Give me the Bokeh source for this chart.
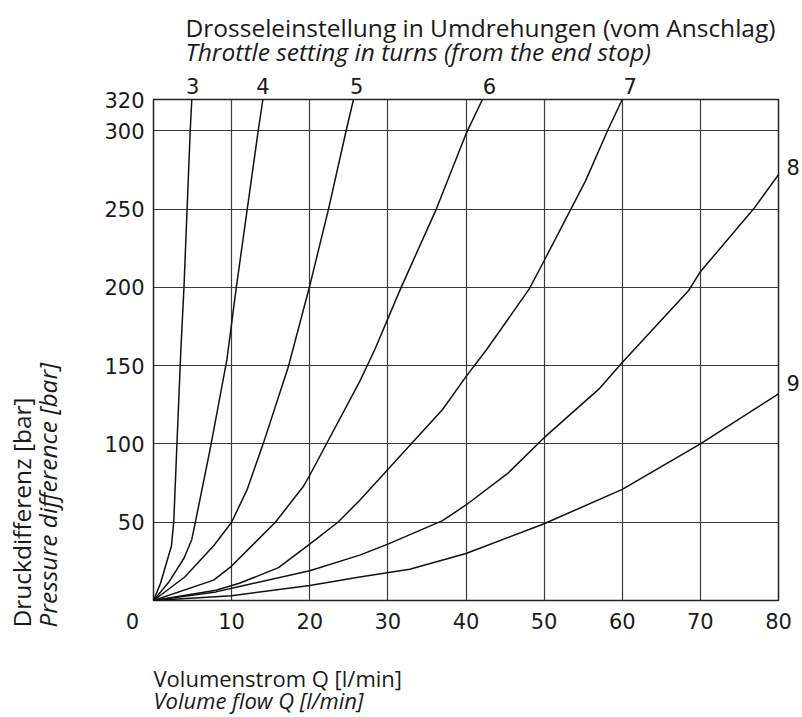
from bokeh.plotting import figure
from bokeh.models import FixedTicker, Range1d, LinearAxis, Title
from bokeh.embed import file_html
from bokeh.resources import INLINE

# Throttle setting curves: flow Q [l/min] vs pressure difference [bar]
q3 = [0, 0.9, 2.3, 2.6, 3.0, 3.5, 3.9, 4.3, 4.7, 4.9]
p3 = [0, 11, 35, 51, 100, 160, 200, 250, 300, 320]

q4 = [0, 2.0, 3.9, 4.9, 5.4, 7.3, 9.4, 10.6, 12.0, 13.4, 14.0]
p4 = [0, 12, 27, 39, 51, 98, 154, 200, 250, 300, 320]

q5 = [0, 4.0, 7.7, 10, 12, 14.1, 17.3, 20, 22.4, 24.7, 25.6]
p5 = [0, 15, 35, 50, 71, 101, 150, 201, 250, 301, 320]

q6 = [0, 7.7, 10, 15.6, 19.2, 20, 26.4, 28.3, 31.7, 36.2, 40, 42.1]
p6 = [0, 13, 22, 50, 73, 80, 140, 160, 200, 250, 298, 320]

q7 = [0, 8, 11, 16, 20, 23.6, 26.4, 37, 40, 42.6, 48.1, 50, 55.3, 58.2, 60]
p7 = [0, 6.6, 11, 21, 36, 50, 64, 122, 143, 160, 199, 217, 268, 301, 320]

q8 = [0, 8, 11, 20, 26.4, 30, 37, 40, 45.3, 50, 57, 60, 68.5, 70, 76.8, 80]
p8 = [0, 5.5, 9, 19, 29, 36, 51, 61, 81, 104, 135, 152, 198, 210, 250, 272]

q9 = [0, 10, 20, 26.4, 32.8, 40, 50, 60, 70, 80]
p9 = [0, 3, 9.6, 15, 20, 30, 49, 71, 100, 132]

curves = [(q3, p3), (q4, p4), (q5, p5), (q6, p6), (q7, p7), (q8, p8), (q9, p9)]

# curve labels: 3..7 above the top edge (at Q positions), 8 and 9 at the right edge (at p positions)
top_names = ["3", "4", "5", "6", "7"]
top_pos = [5, 14, 26, 43, 61]
right_names = ["8", "9"]
right_pos = [277, 139]

x_ticks = [0, 10, 20, 30, 40, 50, 60, 70, 80]
x_tick_labels = ["0\u2003\u2003", "10", "20", "30", "40", "50", "60", "70", "80"]
y_ticks = [50, 100, 150, 200, 250, 300, 320]
x_grid = [10, 20, 30, 40, 50, 60, 70]
y_grid = [50, 100, 150, 200, 250, 300]

title_de = "Drosseleinstellung in Umdrehungen (vom Anschlag)"
title_en = "Throttle setting in turns (from the end stop)"
xlab_de = "Volumenstrom Q [l/min]"
xlab_en = "Volume flow Q [l/min]"
ylab_de = "Druckdifferenz [bar]"
ylab_en = "Pressure difference [bar]"

TXT = "Open Sans"
BIG = "24.5px"
SMALL = "22px"
NUM = "DejaVu Sans"
COL = "#1a1a1a"
NUMSIZE = "21px"

p = figure(width=802, height=717, x_range=Range1d(0, 80), y_range=Range1d(0, 320),
           output_backend="svg", toolbar_location=None,
           min_border_left=153, min_border_right=22, min_border_top=99, min_border_bottom=117)

p.outline_line_color = "#222222"
p.outline_line_width = 1.5

p.xgrid.ticker = FixedTicker(ticks=x_grid)
p.ygrid.ticker = FixedTicker(ticks=y_grid)
for g in (p.xgrid, p.ygrid):
    g.grid_line_color = "#3a3a3a"
    g.grid_line_width = 1.2


def style_axis(ax, standoff):
    ax.axis_line_color = None
    ax.major_tick_line_color = None
    ax.minor_tick_line_color = None
    ax.major_tick_out = 0
    ax.major_tick_in = 0
    ax.major_label_text_font = NUM
    ax.major_label_text_font_size = NUMSIZE
    ax.major_label_text_color = COL
    ax.major_label_standoff = standoff


p.xaxis.ticker = FixedTicker(ticks=x_ticks)
p.xaxis.major_label_overrides = dict(zip(x_ticks, x_tick_labels))
p.yaxis.ticker = FixedTicker(ticks=y_ticks)
style_axis(p.xaxis[0], 9)
style_axis(p.yaxis[0], 9)

top_axis = LinearAxis(ticker=FixedTicker(ticks=top_pos),
                      major_label_overrides=dict(zip(top_pos, top_names)))
style_axis(top_axis, 6)
p.add_layout(top_axis, "above")

right_axis = LinearAxis(ticker=FixedTicker(ticks=right_pos),
                        major_label_overrides=dict(zip(right_pos, right_names)))
style_axis(right_axis, 8)
p.add_layout(right_axis, "right")

for q, pr in curves:
    p.line(q, pr, line_color="#111111", line_width=1.5)


def title(text, where, size, style="normal", standoff=0, offset=0.0):
    t = Title(text=text, align="left", vertical_align="middle", text_font=TXT,
              text_font_size=size, text_font_style=style, text_color=COL,
              standoff=standoff, offset=offset)
    p.add_layout(t, where)


# above (stacked outward from the frame)
title(title_en, "above", BIG, style="italic", standoff=11, offset=32)
title(title_de, "above", BIG, standoff=-32, offset=32)

# below
title(" ", "below", SMALL, standoff=-1)
title(xlab_de, "below", SMALL, standoff=-11)
title(xlab_en, "below", SMALL, style="italic", standoff=-9)

# left (vertical, reading upward, starting below the frame)
title(" ", "left", BIG, standoff=6)
title(ylab_en, "left", BIG, style="italic", standoff=-9, offset=-27)
title(ylab_de, "left", BIG, standoff=-9, offset=-27)

open("out.html", "w").write(file_html(p, INLINE))
